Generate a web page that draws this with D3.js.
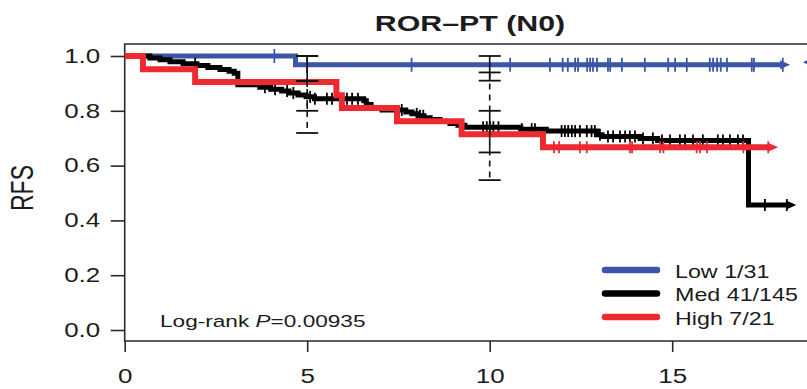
<!DOCTYPE html>
<html>
<head>
<meta charset="utf-8">
<script src="https://cdn.jsdelivr.net/npm/d3@7"></script>
<style>
  html, body { margin: 0; padding: 0; background: #fff; }
  text { font-family: "Liberation Sans", Arial, Helvetica, sans-serif; fill: #1c1c1c; }
</style>
</head>
<body>
<div id="chart"></div>
<script>
const title = 'ROR–PT (N0)';
const yLabel = 'RFS';
const xTicks = [0, 5, 10, 15];
const yTicks = [0, 0.2, 0.4, 0.6, 0.8, 1.0];

// step points [time, survival]
const lowSteps = [[0, 1], [4.68, 0.968]];
const lowEnd = 18.23;
const lowCensor = [4.1, 7.86, 10.56, 11.65, 12.0, 12.14, 12.34, 12.42, 12.67, 12.75, 12.83, 12.94,
  13.24, 13.3, 13.62, 14.25, 14.89, 15.08, 15.4, 16.03, 16.12, 16.23, 16.33, 16.5, 17.18, 17.24, 18.03];

const medSteps = [[0, 1], [0.69, 0.993], [0.97, 0.986], [1.24, 0.979], [1.6, 0.972], [1.98, 0.965],
  [2.28, 0.958], [2.61, 0.951], [2.86, 0.944], [3.0, 0.937], [3.1, 0.895], [3.7, 0.886], [4.0, 0.879],
  [4.3, 0.872], [4.5, 0.865], [4.75, 0.858], [4.97, 0.851], [5.2, 0.844], [6.55, 0.837], [6.62, 0.823],
  [6.75, 0.81], [7.05, 0.803], [7.7, 0.796], [7.87, 0.789], [8.04, 0.782], [8.2, 0.775], [8.37, 0.768],
  [8.64, 0.761], [8.91, 0.754], [9.13, 0.747], [9.32, 0.74], [10.85, 0.733], [11.55, 0.726],
  [12.94, 0.713], [13.08, 0.706], [14.12, 0.699], [14.6, 0.692], [17.09, 0.456]];
const medEnd = 18.4;
const medCensor = [1.93, 3.84, 4.12, 4.45, 4.62, 5.08, 5.21, 5.54, 5.68, 6.09, 6.23, 6.39, 7.59, 8.0,
  8.09, 8.18, 9.82, 9.92, 10.01, 10.1, 10.24, 10.88, 11.15, 11.24, 11.97, 12.06, 12.15, 12.25, 12.34,
  12.47, 12.66, 12.79, 12.88, 13.02, 13.24, 13.38, 13.57, 13.71, 13.84, 13.98, 14.2, 14.47, 14.72,
  14.94, 15.21, 15.35, 15.57, 15.84, 16.25, 16.39, 16.58, 16.8, 16.94, 17.54, 18.14];

const highSteps = [[0, 1], [0.5, 0.952], [1.93, 0.905], [5.8, 0.857], [5.95, 0.81], [7.46, 0.762],
  [9.23, 0.714], [11.46, 0.667]];
const highEnd = 17.9;
const highCensor = [11.76, 11.9, 12.47, 12.66, 13.84, 13.9, 14.67, 14.76, 15.67, 15.76, 15.95, 16.95, 17.63];

// confidence bars: [time, lower, upper]
const lowCI = [[5, 0.909, 1.0], [10, 0.91, 1.0]];
const medCI = [[5, 0.8, 0.909], [10, 0.648, 0.8]];
const highCI = [[5, 0.719, 1.0], [10, 0.547, 0.94]];

const legendLabels = ['Low 1/31', 'Med 41/145', 'High 7/21'];
const pValue = '0.00935';
const edgeMark = [18.58, 0.977];

const width = 807;
const height = 389;
const sx = 1.33; // the picture is stretched sideways

const x = d3.scaleLinear().domain([0, 18.7]).range([124.7, 807.25]);
const y = d3.scaleLinear().domain([0, 1]).range([330, 56]);
const box = { left: 124.7, top: 44, bottom: 341 };

const groups = [
  { steps: lowSteps, end: lowEnd, censor: lowCensor, ci: lowCI, color: '#3b56a6', width: 5, tick: 7, dash: null },
  { steps: medSteps, end: medEnd, censor: medCensor, ci: medCI, color: '#000000', width: 5, tick: 6, dash: '6,5' },
  { steps: highSteps, end: highEnd, censor: highCensor, ci: highCI, color: '#ec2a30', width: 6, tick: 6, dash: '6,5' },
];

const svg = d3.select('#chart')
  .append('svg')
  .attr('width', width)
  .attr('height', height);

const stretchText = (g, px, py, txt, size, anchor) => g.append('text')
  .attr('transform', `translate(${px},${py}) scale(${sx},1)`)
  .attr('text-anchor', anchor)
  .style('font-size', `${size}px`)
  .text(txt);

// frame
const frame = svg.append('g').attr('stroke', '#2a2a2a').attr('stroke-width', 1.6).attr('fill', 'none');
frame.append('path').attr('d', `M${width + 2},${box.top}H${box.left}V${box.bottom}H${width + 2}`);

// x axis
const xAxis = svg.append('g')
  .attr('transform', `translate(0,${box.bottom})`)
  .call(d3.axisBottom(x).tickValues(xTicks).tickSize(11).tickFormat(d3.format('d')));
xAxis.select('.domain').remove();
xAxis.selectAll('line').attr('stroke', '#2a2a2a').attr('stroke-width', 1.6);
xAxis.selectAll('text')
  .attr('y', 42).attr('dy', 0)
  .attr('transform', `scale(${sx},1)`)
  .style('font-size', '19.5px')
  .attr('fill', '#1c1c1c');

// y axis
const yAxis = svg.append('g')
  .attr('transform', `translate(${box.left},0)`)
  .call(d3.axisLeft(y).tickValues(yTicks).tickSize(14).tickFormat(d3.format('.1f')));
yAxis.select('.domain').remove();
yAxis.selectAll('line').attr('stroke', '#2a2a2a').attr('stroke-width', 1.6);
yAxis.selectAll('text')
  .attr('x', -24.5 / sx)
  .attr('transform', `scale(${sx},1)`)
  .style('font-size', '19.5px')
  .attr('fill', '#1c1c1c');

// title and y label
stretchText(svg, 470, 31, title, 22.8, 'middle').style('font-weight', 'bold');
svg.append('text')
  .attr('transform', `translate(33,188) rotate(-90) scale(1,${sx})`)
  .attr('text-anchor', 'middle')
  .style('font-size', '23px')
  .text(yLabel);

// curves
const stepValue = (steps, t) => {
  let v = steps[0][1];
  steps.forEach((s) => { if (s[0] <= t) v = s[1]; });
  return v;
};
const line = d3.line().x((d) => x(d[0])).y((d) => y(d[1])).curve(d3.curveStepAfter);

const curves = svg.append('g');
groups.forEach((g) => {
  const last = g.steps[g.steps.length - 1][1];
  const pts = g.steps.concat([[g.end - 0.22, last]]);
  const cg = curves.append('g');
  cg.append('path')
    .attr('d', line(pts))
    .attr('fill', 'none')
    .attr('stroke', g.color)
    .attr('stroke-width', g.width)
    .attr('stroke-linejoin', 'miter');

  cg.selectAll('.censor')
    .data(g.censor)
    .enter()
    .append('line')
    .attr('x1', (d) => x(d))
    .attr('x2', (d) => x(d))
    .attr('y1', (d) => y(stepValue(g.steps, d)) - g.tick)
    .attr('y2', (d) => y(stepValue(g.steps, d)) + g.tick)
    .attr('stroke', g.color)
    .attr('stroke-width', 1.8);

  // arrow head at the end of follow-up
  const tx = x(g.end);
  const ty = y(last);
  cg.append('path')
    .attr('d', `M${tx},${ty}L${tx - 10},${ty - 4.5}L${tx - 10},${ty + 4.5}Z`)
    .attr('fill', g.color);
});

// partial marker at the right edge
svg.append('path')
  .attr('d', () => {
    const ex = x(edgeMark[0]);
    const ey = y(edgeMark[1]);
    return `M${ex},${ey}L${ex + 9},${ey - 4.5}L${ex + 9},${ey + 4.5}Z`;
  })
  .attr('fill', groups[0].color);

// confidence bars
const bars = svg.append('g').attr('stroke', '#111');
groups.forEach((g) => {
  g.ci.forEach((c) => {
    const cx = x(c[0]);
    bars.append('line')
      .attr('x1', cx).attr('x2', cx)
      .attr('y1', y(c[2])).attr('y2', y(c[1]))
      .attr('stroke-width', 1.6)
      .attr('stroke-dasharray', g.dash);
    [c[1], c[2]].forEach((v) => {
      bars.append('line')
        .attr('x1', cx - 11).attr('x2', cx + 11)
        .attr('y1', y(v)).attr('y2', y(v))
        .attr('stroke-width', 1.8);
    });
  });
});

// legend
const legend = svg.append('g');
legendLabels.forEach((label, i) => {
  const ly = 270 + i * 23.5;
  legend.append('line')
    .attr('x1', 605).attr('x2', 657)
    .attr('y1', ly).attr('y2', ly)
    .attr('stroke', groups[i].color)
    .attr('stroke-width', 6.5)
    .attr('stroke-linecap', 'round');
  stretchText(legend, 675, ly + 7.5, label, 17.5, 'start');
});

// log-rank test
const lr = svg.append('text')
  .attr('transform', `translate(160,326.5) scale(${sx},1)`)
  .style('font-size', '17px');
lr.append('tspan').text('Log-rank ');
lr.append('tspan').style('font-style', 'italic').text('P');
lr.append('tspan').text(`=${pValue}`);
</script>
</body>
</html>
